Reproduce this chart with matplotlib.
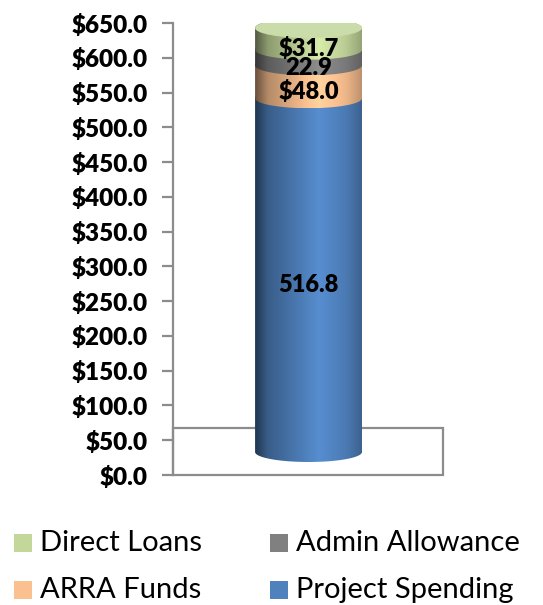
import matplotlib
matplotlib.use('Agg')
import matplotlib.pyplot as plt
import numpy as np
from matplotlib.patches import Polygon, Ellipse, Rectangle


# data
series_names = ['Project Spending', 'ARRA Funds', 'Admin Allowance', 'Direct Loans']
series_vals = [516.8, 48.0, 22.9, 31.7]
series_labels = ['516.8', '$48.0', '22.9', '$31.7']
yticks = np.arange(0, 651, 50)
ytick_labels = [f'${v:.1f}' for v in yticks]

legend_order = ['Direct Loans', 'Admin Allowance', 'ARRA Funds', 'Project Spending']

# params
_colors = {
    'Project Spending': '#4f81bd',
    'ARRA Funds': '#fac090',
    'Admin Allowance': '#808080',
    'Direct Loans': '#c4d79b',
}
_capcolor = '#cadcaa'
_grey = '#8c8c8c'
_font = 'Lato'

_cx = 0.502          # cylinder center, axes x
_rx = 0.198          # cylinder half width
_eh = 14.6           # ellipse half height, cylinder data units
_floorh = 67.6       # floor depth in main y units


# sup func
def _shade(hexcol, n=200):
    rgb = np.array(matplotlib.colors.to_rgb(hexcol))
    t = np.linspace(0, 1, n)
    f = np.interp(t, [0, 0.12, 0.6, 0.85, 1], [0.42, 0.72, 1.10, 0.95, 0.76])
    img = np.clip(rgb[None, :] * f[:, None], 0, 1)
    return img[None, :, :]


def _segpoly(y0, y1, n=80):
    th1 = np.linspace(np.pi, 2 * np.pi, n)
    th2 = np.linspace(0, np.pi, n)
    xs = np.concatenate([_cx + _rx * np.cos(th1), _cx + _rx * np.cos(th2)])
    ys = np.concatenate([y0 + _eh * np.sin(th1), y1 + _eh * np.sin(th2)])
    return np.column_stack([xs, ys])


# plot creation
fig = plt.figure(figsize=(5.43, 6.05), dpi=100)
pos = [173 / 543, 1 - 475 / 605, 270 / 543, 452 / 605]
ax = fig.add_axes(pos)
ax2 = fig.add_axes(pos, zorder=3)

## main axis
ax.set_xlim(0, 1)
ax.set_ylim(0, 650)
ax.set_yticks(yticks)
ax.set_yticklabels(ytick_labels, fontfamily=_font, fontweight='heavy', fontsize=17.5)
ax.set_xticks([])
for s in ['top', 'right', 'bottom']:
    ax.spines[s].set_visible(False)
ax.spines['left'].set_color(_grey)
ax.spines['left'].set_linewidth(1.6)
ax.tick_params(axis='y', length=8, width=1.6, color=_grey, pad=10)

## floor
ax.add_patch(Rectangle((0, 0), 1, _floorh, facecolor='none', edgecolor=_grey,
                       lw=1.6, clip_on=False))

## cylinder
bottoms = np.concatenate([[0], np.cumsum(series_vals)[:-1]])
tops = np.cumsum(series_vals)
for name, lab, y0, y1 in zip(series_names, series_labels, bottoms, tops):
    poly = Polygon(_segpoly(y0, y1), closed=True, facecolor='none',
                   edgecolor='none', transform=ax2.transData)
    ax2.add_patch(poly)
    im = ax2.imshow(_shade(_colors[name]), extent=[_cx - _rx, _cx + _rx, y0 - _eh, y1 + _eh],
                    aspect='auto', interpolation='bilinear')
    im.set_clip_path(poly)
    ax2.text(_cx, (y0 + y1) / 2 - _eh, lab, ha='center', va='center',
             fontfamily=_font, fontweight='heavy', fontsize=17, color='black', zorder=5)

ax2.add_patch(Ellipse((_cx, tops[-1]), 2 * _rx, 2 * _eh, facecolor=_capcolor,
                      edgecolor='none', zorder=2))

ax2.set_xlim(0, 1)
ax2.set_ylim(-33.6, 626.7)
ax2.axis('off')

## legend
leg_pos = {
    'Direct Loans': (14, 543),
    'Admin Allowance': (270, 543),
    'ARRA Funds': (14, 590),
    'Project Spending': (270, 590),
}
for name in legend_order:
    lx, ly = leg_pos[name]
    fig.add_artist(Rectangle((lx / 543, 1 - (ly + 9) / 605), 18 / 543, 18 / 605,
                             facecolor=_colors[name], edgecolor='none',
                             transform=fig.transFigure))
    fig.text((lx + 26) / 543, 1 - ly / 605, name, ha='left', va='center',
             fontfamily=_font, fontsize=21)

# showing
fig.savefig('out.png', dpi=100)
